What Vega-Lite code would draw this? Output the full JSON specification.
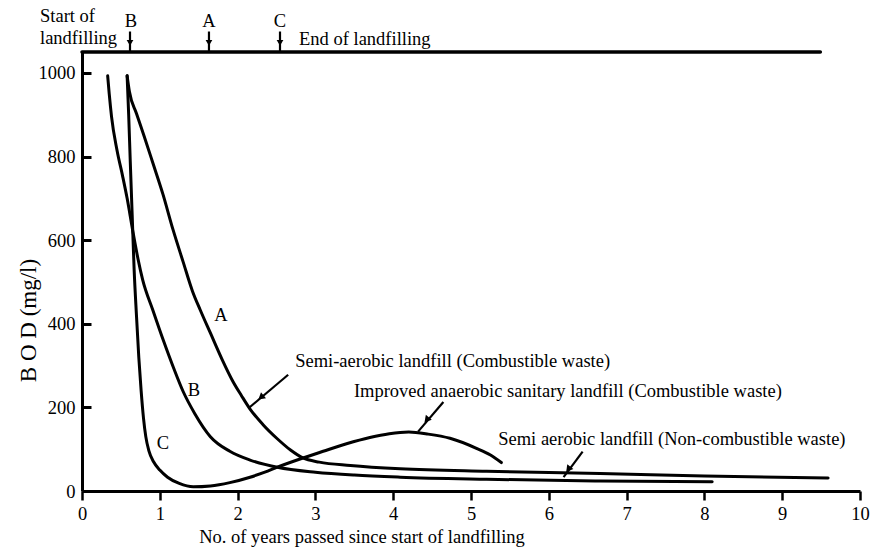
{
  "$schema": "https://vega.github.io/schema/vega-lite/v6.json",
  "width": 778,
  "height": 439,
  "autosize": {"type": "none"},
  "padding": {"left": 82, "top": 52, "right": 11, "bottom": 57},
  "background": "white",
  "config": {
    "view": {"stroke": null},
    "font": "Liberation Serif",
    "axis": {
      "ticks": true, "tickColor": "#000000", "tickOpacity": 1,
      "domainColor": "#000000", "domainWidth": 3, "grid": false,
      "labelFontSize": 18.5, "labelColor": "#000000", "labelFont": "Liberation Serif",
      "labelFlush": false, "labelOverlap": false,
      "titleFontSize": 18.5, "titleFontWeight": "normal", "titleColor": "#000000", "titleFont": "Liberation Serif"
    },
    "axisX": {"tickSize": 9, "tickWidth": 2.5, "labelPadding": 4},
    "axisY": {"tickSize": -9, "tickWidth": 3, "labelPadding": 16}
  },
  "datasets": {
    "curves": [
      {"series": "A", "x": 0.58, "y": 993}, {"series": "A", "x": 0.61, "y": 955}, {"series": "A", "x": 0.70, "y": 903},
      {"series": "A", "x": 0.80, "y": 848}, {"series": "A", "x": 0.91, "y": 785}, {"series": "A", "x": 1.04, "y": 710},
      {"series": "A", "x": 1.17, "y": 625}, {"series": "A", "x": 1.30, "y": 548}, {"series": "A", "x": 1.42, "y": 478},
      {"series": "A", "x": 1.52, "y": 433}, {"series": "A", "x": 1.65, "y": 378}, {"series": "A", "x": 1.80, "y": 315},
      {"series": "A", "x": 1.94, "y": 262}, {"series": "A", "x": 2.05, "y": 228}, {"series": "A", "x": 2.16, "y": 196},
      {"series": "A", "x": 2.33, "y": 158}, {"series": "A", "x": 2.51, "y": 125}, {"series": "A", "x": 2.68, "y": 98},
      {"series": "A", "x": 2.84, "y": 79}, {"series": "A", "x": 3.05, "y": 69}, {"series": "A", "x": 3.45, "y": 61},
      {"series": "A", "x": 4.09, "y": 53}, {"series": "A", "x": 5.2, "y": 47}, {"series": "A", "x": 6.66, "y": 42},
      {"series": "A", "x": 8.0, "y": 36}, {"series": "A", "x": 9.59, "y": 31},
      {"series": "B", "x": 0.33, "y": 993}, {"series": "B", "x": 0.35, "y": 950}, {"series": "B", "x": 0.38, "y": 895},
      {"series": "B", "x": 0.45, "y": 815}, {"series": "B", "x": 0.52, "y": 755}, {"series": "B", "x": 0.58, "y": 700},
      {"series": "B", "x": 0.65, "y": 625}, {"series": "B", "x": 0.72, "y": 555}, {"series": "B", "x": 0.78, "y": 505},
      {"series": "B", "x": 0.91, "y": 433}, {"series": "B", "x": 1.05, "y": 358}, {"series": "B", "x": 1.18, "y": 293},
      {"series": "B", "x": 1.30, "y": 238}, {"series": "B", "x": 1.45, "y": 185}, {"series": "B", "x": 1.65, "y": 130},
      {"series": "B", "x": 1.9, "y": 95}, {"series": "B", "x": 2.16, "y": 74}, {"series": "B", "x": 2.51, "y": 57},
      {"series": "B", "x": 3.0, "y": 45}, {"series": "B", "x": 3.5, "y": 38}, {"series": "B", "x": 4.09, "y": 33},
      {"series": "B", "x": 5.2, "y": 28}, {"series": "B", "x": 6.66, "y": 24}, {"series": "B", "x": 8.10, "y": 22},
      {"series": "C", "x": 0.58, "y": 993}, {"series": "C", "x": 0.60, "y": 900}, {"series": "C", "x": 0.62, "y": 790},
      {"series": "C", "x": 0.645, "y": 660}, {"series": "C", "x": 0.67, "y": 530}, {"series": "C", "x": 0.70, "y": 420},
      {"series": "C", "x": 0.73, "y": 320}, {"series": "C", "x": 0.76, "y": 240}, {"series": "C", "x": 0.79, "y": 175},
      {"series": "C", "x": 0.82, "y": 130}, {"series": "C", "x": 0.86, "y": 96}, {"series": "C", "x": 0.92, "y": 70},
      {"series": "C", "x": 1.0, "y": 50}, {"series": "C", "x": 1.1, "y": 33}, {"series": "C", "x": 1.25, "y": 18},
      {"series": "C", "x": 1.43, "y": 10}, {"series": "C", "x": 1.65, "y": 12}, {"series": "C", "x": 1.9, "y": 20},
      {"series": "C", "x": 2.16, "y": 33}, {"series": "C", "x": 2.35, "y": 45}, {"series": "C", "x": 2.51, "y": 57},
      {"series": "C", "x": 2.84, "y": 79}, {"series": "C", "x": 3.1, "y": 95}, {"series": "C", "x": 3.4, "y": 113},
      {"series": "C", "x": 3.7, "y": 128}, {"series": "C", "x": 3.95, "y": 137}, {"series": "C", "x": 4.2, "y": 141},
      {"series": "C", "x": 4.45, "y": 136}, {"series": "C", "x": 4.73, "y": 126}, {"series": "C", "x": 5.07, "y": 102},
      {"series": "C", "x": 5.25, "y": 86}, {"series": "C", "x": 5.39, "y": 68}
    ],
    "topline": [{"x": 0, "y": 1050}, {"x": 9.49, "y": 1050}],
    "pointers": [
      {"id": "p1", "x": 2.65, "y": 278}, {"id": "p1", "x": 2.14, "y": 198},
      {"id": "p2", "x": 4.645, "y": 213}, {"id": "p2", "x": 4.32, "y": 142},
      {"id": "p3", "x": 6.435, "y": 94}, {"id": "p3", "x": 6.19, "y": 33}
    ],
    "heads": [
      {"id": "p1", "x": 2.30, "y": 224},
      {"id": "p2", "x": 4.43, "y": 170},
      {"id": "p3", "x": 6.25, "y": 52}
    ],
    "stems": [
      {"x": 0.617, "y": 1099, "y2": 1050},
      {"x": 1.632, "y": 1099, "y2": 1050},
      {"x": 2.545, "y": 1099, "y2": 1050}
    ],
    "stemheads": [
      {"x": 0.617, "y": 1072},
      {"x": 1.632, "y": 1072},
      {"x": 2.545, "y": 1072}
    ],
    "notes": [
      {"label": "Semi-aerobic landfill (Combustible waste)", "x": 2.74, "y": 296.6},
      {"label": "Improved anaerobic sanitary landfill (Combustible waste)", "x": 3.495, "y": 225.6},
      {"label": "Semi aerobic landfill (Non-combustible waste)", "x": 5.35, "y": 110},
      {"label": "Start of", "x": -0.54, "y": 1122},
      {"label": "landfilling", "x": -0.54, "y": 1069},
      {"label": "End of landfilling", "x": 2.79, "y": 1067}
    ],
    "letters": [
      {"label": "A", "x": 1.787, "y": 421},
      {"label": "B", "x": 1.44, "y": 242},
      {"label": "C", "x": 1.04, "y": 115},
      {"label": "B", "x": 0.63, "y": 1124},
      {"label": "A", "x": 1.63, "y": 1124},
      {"label": "C", "x": 2.545, "y": 1124}
    ]
  },
  "layer": [
    {
      "data": {"name": "curves"},
      "mark": {"type": "line", "interpolate": "monotone", "color": "black", "strokeWidth": 3, "strokeCap": "round"},
      "encoding": {
        "x": {
          "field": "x", "type": "quantitative",
          "scale": {"domain": [0, 10], "nice": false, "zero": false},
          "axis": {
            "values": [0, 1, 2, 3, 4, 5, 6, 7, 8, 9, 10],
            "format": "d",
            "title": "No. of years passed since start of landfilling",
            "titleX": 279.5, "titleY": 51, "titleAlign": "center", "titleBaseline": "alphabetic"
          }
        },
        "y": {
          "field": "y", "type": "quantitative",
          "scale": {"domain": [0, 1050], "nice": false},
          "axis": {
            "values": [0, 200, 400, 600, 800, 1000],
            "format": "d",
            "title": "B O D (mg/l)",
            "titleX": -47, "titleY": 268, "titleAngle": 270, "titleAlign": "center", "titleBaseline": "alphabetic",
            "titleFontSize": 23
          }
        },
        "detail": {"field": "series"}
      }
    },
    {
      "data": {"name": "topline"},
      "mark": {"type": "line", "color": "black", "strokeWidth": 3.5, "strokeCap": "round"},
      "encoding": {"x": {"field": "x", "type": "quantitative"}, "y": {"field": "y", "type": "quantitative"}}
    },
    {
      "data": {"name": "pointers"},
      "mark": {"type": "line", "color": "black", "strokeWidth": 2.2},
      "encoding": {"x": {"field": "x", "type": "quantitative"}, "y": {"field": "y", "type": "quantitative"}, "detail": {"field": "id"}}
    },
    {
      "data": {"name": "heads"},
      "transform": [{"filter": "datum.id == 'p1'"}],
      "mark": {"type": "point", "shape": "triangle-up", "angle": 230, "filled": true, "size": 60, "color": "black", "opacity": 1},
      "encoding": {"x": {"field": "x", "type": "quantitative"}, "y": {"field": "y", "type": "quantitative"}}
    },
    {
      "data": {"name": "heads"},
      "transform": [{"filter": "datum.id == 'p2'"}],
      "mark": {"type": "point", "shape": "triangle-up", "angle": 220, "filled": true, "size": 60, "color": "black", "opacity": 1},
      "encoding": {"x": {"field": "x", "type": "quantitative"}, "y": {"field": "y", "type": "quantitative"}}
    },
    {
      "data": {"name": "heads"},
      "transform": [{"filter": "datum.id == 'p3'"}],
      "mark": {"type": "point", "shape": "triangle-up", "angle": 218, "filled": true, "size": 60, "color": "black", "opacity": 1},
      "encoding": {"x": {"field": "x", "type": "quantitative"}, "y": {"field": "y", "type": "quantitative"}}
    },
    {
      "data": {"name": "stems"},
      "mark": {"type": "rule", "color": "black", "strokeWidth": 2.2},
      "encoding": {"x": {"field": "x", "type": "quantitative"}, "y": {"field": "y", "type": "quantitative"}, "y2": {"field": "y2"}}
    },
    {
      "data": {"name": "stemheads"},
      "mark": {"type": "point", "shape": "triangle-down", "filled": true, "size": 45, "color": "black", "opacity": 1},
      "encoding": {"x": {"field": "x", "type": "quantitative"}, "y": {"field": "y", "type": "quantitative"}}
    },
    {
      "data": {"name": "notes"},
      "mark": {"type": "text", "align": "left", "baseline": "alphabetic", "fontSize": 18.5, "font": "Liberation Serif", "color": "black"},
      "encoding": {"x": {"field": "x", "type": "quantitative"}, "y": {"field": "y", "type": "quantitative"}, "text": {"field": "label"}}
    },
    {
      "data": {"name": "letters"},
      "mark": {"type": "text", "align": "center", "baseline": "middle", "fontSize": 18.5, "font": "Liberation Serif", "color": "black"},
      "encoding": {"x": {"field": "x", "type": "quantitative"}, "y": {"field": "y", "type": "quantitative"}, "text": {"field": "label"}}
    }
  ]
}
